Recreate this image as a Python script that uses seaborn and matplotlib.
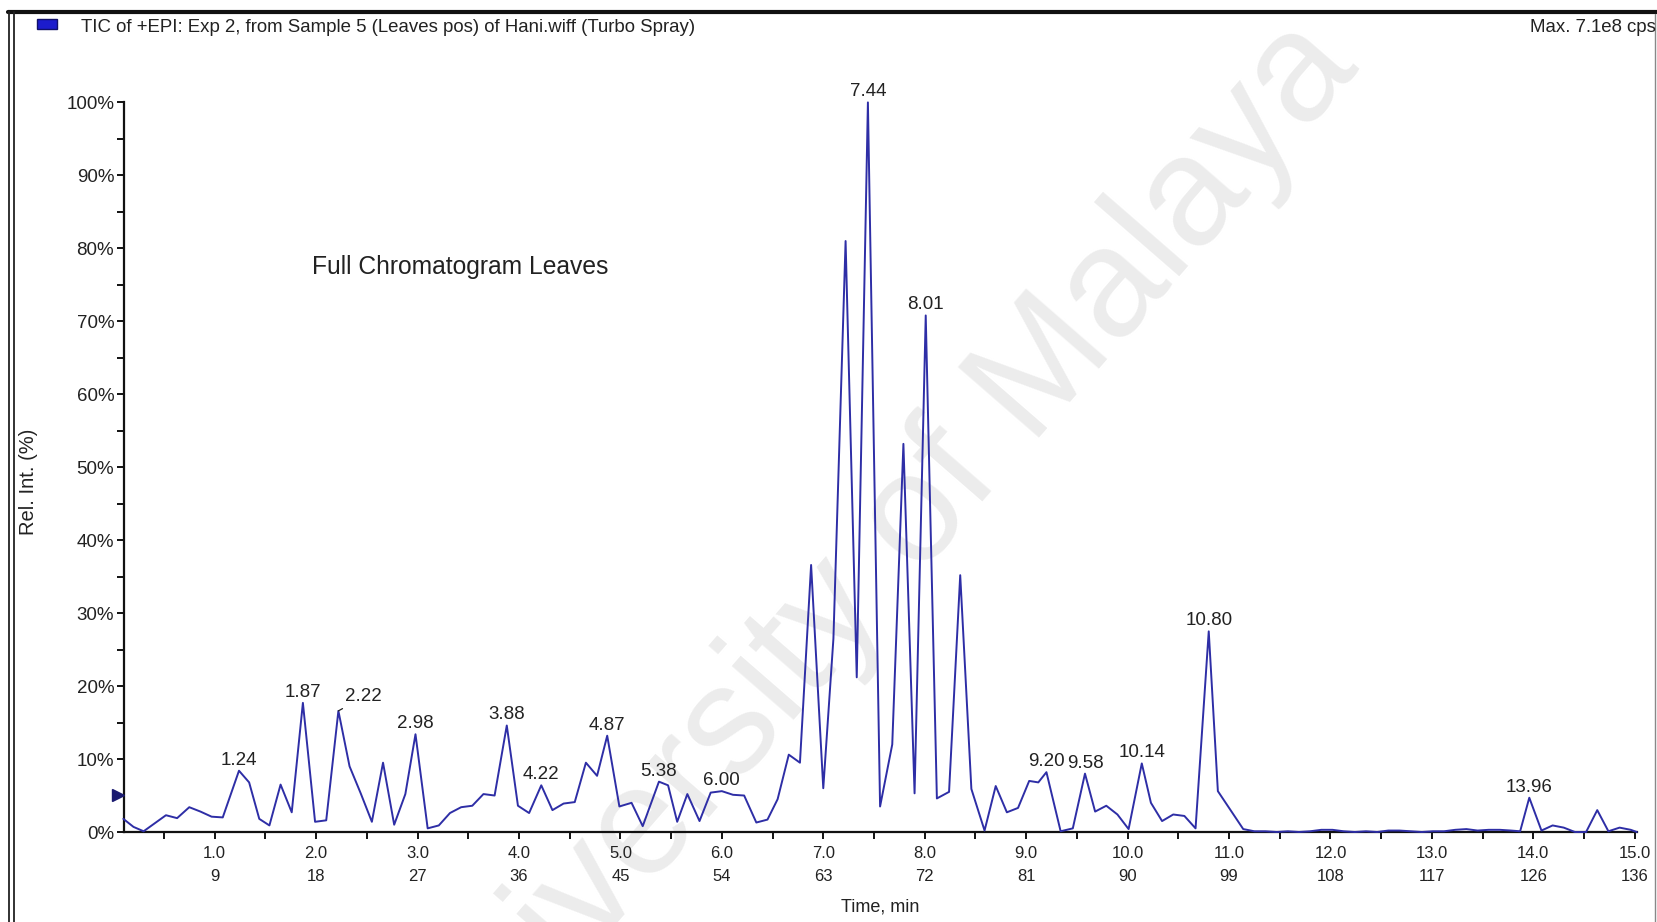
import matplotlib
matplotlib.use("Agg")
import matplotlib.pyplot as plt
from matplotlib.lines import Line2D
from matplotlib.patches import Rectangle
from matplotlib.ticker import FixedLocator
import pandas as pd
import seaborn as sns

# Total ion chromatogram, one point per scan (time in minutes, relative intensity in %)
time_min = [
    0.10, 0.20, 0.30, 0.41, 0.52, 0.63, 0.75, 0.86, 0.97, 1.08,
    1.24, 1.34, 1.44, 1.54, 1.65, 1.76, 1.87, 1.99, 2.10, 2.22,
    2.33, 2.44, 2.55, 2.66, 2.77, 2.88, 2.98, 3.10, 3.21, 3.32,
    3.43, 3.54, 3.65, 3.76, 3.88, 3.99, 4.10, 4.22, 4.33, 4.44,
    4.55, 4.66, 4.77, 4.87, 4.99, 5.11, 5.22, 5.38, 5.47, 5.56,
    5.66, 5.78, 5.89, 6.00, 6.11, 6.22, 6.34, 6.45, 6.55, 6.66,
    6.77, 6.88, 7.00, 7.10, 7.22, 7.33, 7.44, 7.56, 7.68, 7.79,
    7.90, 8.01, 8.12, 8.24, 8.35, 8.46, 8.59, 8.70, 8.81, 8.92,
    9.03, 9.12, 9.20, 9.34, 9.46, 9.58, 9.68, 9.79, 9.90, 10.01,
    10.14, 10.23, 10.34, 10.45, 10.56, 10.67, 10.80, 10.89, 11.01, 11.14,
    11.25, 11.36, 11.47, 11.58, 11.69, 11.80, 11.91, 12.02, 12.13, 12.24,
    12.35, 12.46, 12.57, 12.68, 12.79, 12.90, 13.01, 13.12, 13.23, 13.34,
    13.45, 13.56, 13.67, 13.78, 13.87, 13.96, 14.08, 14.19, 14.30, 14.41,
    14.52, 14.63, 14.74, 14.85, 14.96, 15.02,
]
rel_int = [
    1.8, 0.7, 0.1, 1.2, 2.3, 1.9, 3.4, 2.8, 2.1, 2.0,
    8.4, 6.8, 1.8, 0.9, 6.5, 2.7, 17.7, 1.4, 1.6, 16.6,
    9.0, 5.3, 1.4, 9.5, 1.0, 5.2, 13.4, 0.5, 0.9, 2.6,
    3.4, 3.6, 5.2, 5.0, 14.6, 3.6, 2.6, 6.4, 3.0, 3.9,
    4.1, 9.5, 7.7, 13.2, 3.5, 4.0, 0.8, 6.9, 6.4, 1.4,
    5.2, 1.5, 5.4, 5.6, 5.1, 5.0, 1.3, 1.7, 4.5, 10.6,
    9.5, 36.6, 6.0, 26.5, 81.0, 21.2, 100.0, 3.5, 12.0, 53.2,
    5.3, 70.8, 4.6, 5.5, 35.2, 5.9, 0.2, 6.3, 2.7, 3.3,
    7.0, 6.8, 8.2, 0.1, 0.5, 8.0, 2.8, 3.6, 2.4, 0.4,
    9.4, 4.0, 1.5, 2.4, 2.2, 0.5, 27.5, 5.6, 3.1, 0.4,
    0.1, 0.1, 0.0, 0.1, 0.0, 0.1, 0.3, 0.3, 0.1, 0.0,
    0.1, 0.0, 0.2, 0.2, 0.1, 0.0, 0.1, 0.1, 0.3, 0.4,
    0.2, 0.3, 0.3, 0.2, 0.1, 4.7, 0.2, 0.9, 0.6, 0.0,
    0.0, 3.0, 0.1, 0.6, 0.3, 0.0,
]

# Retention times printed above the labelled peaks
peak_labels = ["1.24", "1.87", "2.22", "2.98", "3.88", "4.22", "4.87", "5.38",
               "6.00", "7.44", "8.01", "9.20", "9.58", "10.14", "10.80", "13.96"]

# Axis ticks: time (min) with the matching scan number underneath
time_ticks = [1.0, 2.0, 3.0, 4.0, 5.0, 6.0, 7.0, 8.0, 9.0, 10.0, 11.0, 12.0, 13.0, 14.0, 15.0]
scan_ticks = [9, 18, 27, 36, 45, 54, 63, 72, 81, 90, 99, 108, 117, 126, 136]
minor_time_ticks = [0.5, 1.5, 2.5, 3.5, 4.5, 5.5, 6.5, 7.5, 8.5, 9.5, 10.5, 11.5, 12.5, 13.5, 14.5]
pct_ticks = [0, 10, 20, 30, 40, 50, 60, 70, 80, 90, 100]
minor_pct_ticks = [5, 15, 25, 35, 45, 55, 65, 75, 85, 95]

title_text = "TIC of +EPI: Exp 2, from Sample 5 (Leaves pos) of Hani.wiff (Turbo Spray)"
max_text = "Max. 7.1e8 cps"
panel_text = "Full Chromatogram Leaves"

sns.set_style("ticks")
plt.rcParams["font.family"] = ["Liberation Sans", "DejaVu Sans"]

W_PX, H_PX = 1658, 922
fig = plt.figure(figsize=(W_PX / 100, H_PX / 100), dpi=100)
fig.patch.set_facecolor("white")


def fx(px):
    return px / W_PX


def fy(py):
    return 1 - py / H_PX


# faint diagonal watermark behind the plot
fig.text(fx(870), fy(570), "University of Malaya", fontsize=112, color="#ececec",
         rotation=49, ha="center", va="center", zorder=-1)

ax = fig.add_axes([0.07470, 0.09761, 0.91252, 0.79132])
ax.patch.set_alpha(0)

df = pd.DataFrame({"time": time_min, "intensity": rel_int})
sns.lineplot(data=df, x="time", y="intensity", ax=ax, color="#2e2ea6",
             linewidth=1.4, clip_on=False, zorder=3)

ax.set_xlim(0.105, 15.02)
ax.set_ylim(0, 100)

for side in ("top", "right"):
    ax.spines[side].set_visible(False)
for side in ("left", "bottom"):
    ax.spines[side].set_linewidth(1.6)
    ax.spines[side].set_color("#111111")

ax.xaxis.set_major_locator(FixedLocator(time_ticks))
ax.xaxis.set_minor_locator(FixedLocator(minor_time_ticks))
ax.set_xticklabels([f"{t:.1f}\n{s}" for t, s in zip(time_ticks, scan_ticks)],
                   fontsize=12, linespacing=1.7, color="#222222")
ax.yaxis.set_major_locator(FixedLocator(pct_ticks))
ax.yaxis.set_minor_locator(FixedLocator(minor_pct_ticks))
ax.set_yticklabels([f"{p}%" for p in pct_ticks], fontsize=13.5, color="#222222")
ax.tick_params(which="both", direction="out", length=5, width=1.4, color="#111111")
ax.tick_params(axis="x", pad=5)
ax.tick_params(axis="y", pad=2)

ax.set_xlabel("Time, min", fontsize=13, color="#222222")
ax.xaxis.label.set_va("center")
ax.xaxis.set_label_coords(0.5, -0.103)
ax.set_ylabel("Rel. Int. (%)", fontsize=14.5, color="#222222")
ax.yaxis.label.set_va("center")
ax.yaxis.set_label_coords(-0.0631, 0.48)

# peak retention-time labels
lookup = dict(zip(time_min, rel_int))
for lab in peak_labels:
    t = float(lab)
    y = lookup[t]
    if lab == "2.22":
        ax.annotate(lab, xy=(t, y), xytext=(5, 4), textcoords="offset points",
                    ha="left", va="bottom", fontsize=13.5, color="#222222",
                    arrowprops=dict(arrowstyle="-", lw=0.9, color="#222222",
                                    shrinkA=0, shrinkB=0), zorder=4)
    else:
        ax.annotate(lab, xy=(t, y), xytext=(0, 1.5), textcoords="offset points",
                    ha="center", va="bottom", fontsize=13.5, color="#222222",
                    annotation_clip=False, zorder=4)

ax.text(0.222, 0.775, panel_text, transform=ax.transAxes, fontsize=17.7,
        color="#222222", ha="center", va="center")

# threshold marker on the intensity axis
ax.plot([-0.004], [5.1], marker=">", markersize=9, color="#1a1a70",
        transform=ax.get_yaxis_transform(), clip_on=False, zorder=5)

# header line
fig.patches.append(Rectangle((fx(37), fy(29)), fx(20), 10 / H_PX, transform=fig.transFigure,
                             facecolor="#1c1ccc", edgecolor="#10106a", linewidth=1.0))
fig.text(fx(81), fy(27), title_text, fontsize=13.4, color="#222222", ha="left", va="center")
fig.text(fx(1530), fy(27), max_text, fontsize=13.4, color="#222222", ha="left", va="center")

# window frame
frame = [
    ((fx(8), fx(1658)), (fy(12), fy(12)), 3.0, "#111111"),
    ((fx(9.5), fx(9.5)), (fy(12), fy(922)), 1.3, "#222222"),
    ((fx(14), fx(14)), (fy(12), fy(922)), 1.3, "#222222"),
    ((fx(1655), fx(1655)), (fy(14), fy(922)), 1.0, "#888888"),
]
for xs, ys, lw, col in frame:
    fig.add_artist(Line2D(xs, ys, transform=fig.transFigure, linewidth=lw, color=col))

fig.savefig("out.png", dpi=100, facecolor="white")
